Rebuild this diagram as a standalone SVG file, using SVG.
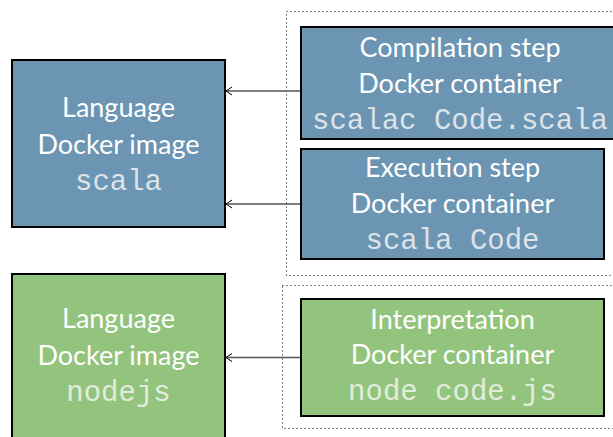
<svg xmlns="http://www.w3.org/2000/svg" width="613" height="437" viewBox="0 0 613 437">
<style>
.box{stroke:#000;stroke-width:2}
.blue{fill:#6b95b2}
.green{fill:#93c47d}
.grp{fill:none;stroke:#000;stroke-width:1;stroke-dasharray:1 3}
.t{font-family:Lato,"Open Sans",sans-serif;font-size:27px;fill:#fff;text-anchor:middle}
.m{font-family:"Liberation Mono","Courier New",monospace;font-size:29px;fill:#dde3e8;text-anchor:middle}
.g .m{fill:#e2ecdc}
.c{stroke:#555;stroke-width:1.3;fill:none;marker-end:url(#ah)}
</style>
<defs>
<marker id="ah" markerWidth="8" markerHeight="10" refX="7" refY="5" orient="auto" markerUnits="userSpaceOnUse">
<path d="M1,1 L7,5 L1,9" fill="none" stroke="#000" stroke-width="1"/>
</marker>
</defs>
<rect width="613" height="437" fill="#fff"/>
<g id="groups">
<rect class="grp" x="286.5" y="11.5" width="340" height="264"/>
<rect class="grp" x="282.5" y="285.5" width="340" height="143"/>
</g>
<g id="connectors">
<line class="c" x1="301" y1="91" x2="226" y2="91"/>
<line class="c" x1="301" y1="204" x2="226" y2="204"/>
<line class="c" x1="301" y1="357.5" x2="226" y2="357.5"/>
</g>
<g id="scala-image">
<rect class="box blue" x="12" y="60" width="213" height="167"/>
<text class="t" x="118.5" y="117">Language</text>
<text class="t" x="118.5" y="154">Docker image</text>
<text class="m" x="118.5" y="190">scala</text>
</g>
<g id="compile">
<rect class="box blue" x="301" y="27" width="318" height="112"/>
<text class="t" x="460" y="57">Compilation step</text>
<text class="t" x="460" y="93">Docker container</text>
<text class="m" x="460" y="129">scalac Code.scala</text>
</g>
<g id="execute">
<rect class="box blue" x="301" y="149" width="303" height="110"/>
<text class="t" x="452.5" y="177">Execution step</text>
<text class="t" x="452.5" y="213">Docker container</text>
<text class="m" x="452.5" y="249">scala Code</text>
</g>
<g id="node-image" class="g">
<rect class="box green" x="12" y="274" width="213" height="180"/>
<text class="t" x="118.5" y="328">Language</text>
<text class="t" x="118.5" y="365">Docker image</text>
<text class="m" x="118.5" y="401">nodejs</text>
</g>
<g id="interpret" class="g">
<rect class="box green" x="301" y="299" width="303" height="117"/>
<text class="t" x="452.5" y="329">Interpretation</text>
<text class="t" x="452.5" y="364">Docker container</text>
<text class="m" x="452.5" y="400">node code.js</text>
</g>
</svg>
